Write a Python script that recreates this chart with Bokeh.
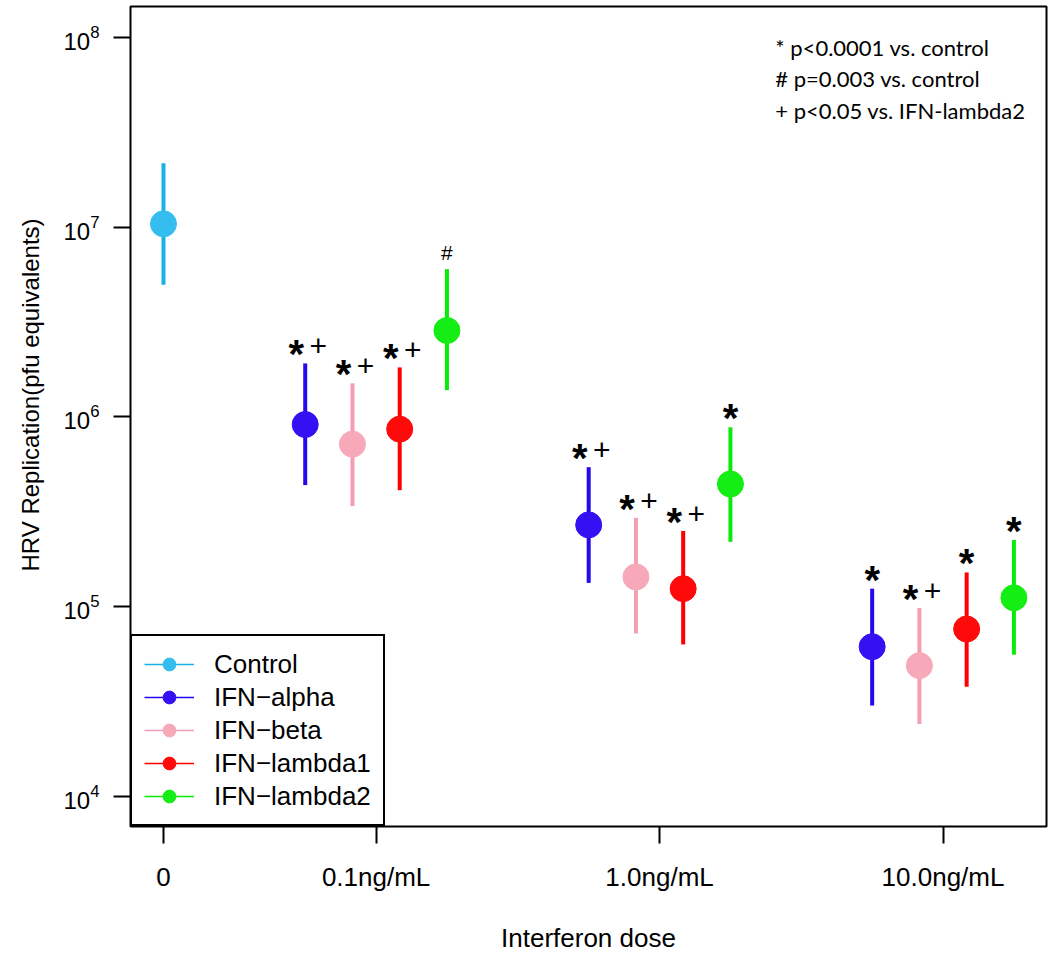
from bokeh.plotting import figure
from bokeh.models import (FixedTicker, Legend, LegendItem, ColumnDataSource, Label, Range1d, Title)
from bokeh.embed import file_html
from bokeh.resources import INLINE
from bokeh.core.properties import value

# ---------------- data ----------------
doses = ["0", "0.1ng/mL", "1.0ng/mL", "10.0ng/mL"]
series = ["Control", "IFN\u2212alpha", "IFN\u2212beta", "IFN\u2212lambda1", "IFN\u2212lambda2"]
line_colors = ["#19b1e6", "#2608ee", "#f59db2", "#ff0000", "#0aeb0a"]
dot_colors = ["#35bdef", "#3510f2", "#f7a8b9", "#ff0a0a", "#14ee14"]

control_mean = [1.04e7]
control_upper = [2.17e7]
control_lower = [4.96e6]

alpha_mean = [9.1e5, 2.69e5, 6.13e4]
alpha_upper = [1.91e6, 5.42e5, 1.24e5]
alpha_lower = [4.36e5, 1.33e5, 3.0e4]

beta_mean = [7.17e5, 1.43e5, 4.87e4]
beta_upper = [1.5e6, 2.93e5, 9.8e4]
beta_lower = [3.38e5, 7.2e4, 2.4e4]

l1_mean = [8.6e5, 1.24e5, 7.6e4]
l1_upper = [1.82e6, 2.5e5, 1.51e5]
l1_lower = [4.1e5, 6.3e4, 3.77e4]

l2_mean = [2.85e6, 4.42e5, 1.11e5]
l2_upper = [6.0e6, 8.8e5, 2.24e5]
l2_lower = [1.38e6, 2.19e5, 5.56e4]

control_sig = [""]
alpha_sig = ["*+", "*+", "*"]
beta_sig = ["*+", "*+", "*+"]
l1_sig = ["*+", "*+", "*"]
l2_sig = ["#", "*", "*"]

notes = ["* p<0.0001 vs. control", "# p=0.003 vs. control", "+ p<0.05 vs. IFN-lambda2"]
x_title = "Interferon dose"
y_title = "HRV Replication(pfu equivalents)"

# ---------------- layout ----------------
group_pos = [0.0, 4.5, 10.5, 16.5]
offsets = [0.0, -1.5, -0.5, 0.5, 1.5]

all_mean = [control_mean, alpha_mean, beta_mean, l1_mean, l2_mean]
all_upper = [control_upper, alpha_upper, beta_upper, l1_upper, l2_upper]
all_lower = [control_lower, alpha_lower, beta_lower, l1_lower, l2_lower]
all_sig = [control_sig, alpha_sig, beta_sig, l1_sig, l2_sig]

p = figure(width=1048, height=955, y_axis_type="log",
           x_range=Range1d(-0.698, 18.69), y_range=Range1d(10 ** 3.8395, 10 ** 8.163),
           output_backend="svg", toolbar_location=None,
           min_border_left=130, min_border_right=2, min_border_top=6, min_border_bottom=127)
p.outline_line_color = "black"
p.outline_line_width = 2
p.outline_line_alpha = 1
p.grid.visible = False
p.background_fill_color = "white"

FONT = "Liberation Sans"

# x axis
p.xaxis.ticker = FixedTicker(ticks=group_pos)
p.xaxis.major_label_overrides = {g: d for g, d in zip(group_pos, doses)}
p.xaxis.axis_label = x_title
p.xaxis.major_label_text_font_size = "26px"
p.xaxis.major_label_standoff = 18
p.xaxis.axis_label_text_font_size = "26px"
p.xaxis.axis_label_standoff = 28

# y axis
p.yaxis.ticker = FixedTicker(ticks=[1e4, 1e5, 1e6, 1e7, 1e8])
p.yaxis.major_label_text_font_size = "24px"
p.yaxis.major_label_standoff = 14

for ax in (p.xaxis, p.yaxis):
    ax.axis_line_color = None
    ax.major_tick_line_width = 2
    ax.major_tick_line_color = "black"
    ax.major_tick_out = 17
    ax.major_tick_in = 0
    ax.minor_tick_out = 0
    ax.minor_tick_in = 0
    ax.major_label_text_font = FONT
    ax.major_label_text_color = "black"
    ax.axis_label_text_font = FONT
    ax.axis_label_text_font_style = "normal"
    ax.axis_label_text_color = "black"

# y-axis title, a little above the frame centre as in the original
p.add_layout(Title(text=y_title, align="left", offset=255, standoff=30, vertical_align="top",
                   text_font=FONT, text_font_size="24px", text_font_style="normal",
                   text_color="black"), "left")

items = []
star_x, star_y, star_off = [], [], []
plus_x, plus_y = [], []
hash_x, hash_y = [], []
for i, name in enumerate(series):
    gp = group_pos[:1] if i == 0 else group_pos[1:]
    xs = [g + offsets[i] for g in gp]
    src = ColumnDataSource(dict(x=xs, mean=all_mean[i], lo=all_lower[i], hi=all_upper[i]))
    p.segment(x0="x", y0="lo", x1="x", y1="hi", source=src,
              line_color=line_colors[i], line_width=4)
    proxy = p.line(x="x", y="mean", source=src, line_color=line_colors[i],
                   line_width=1.6, visible=False)
    sc = p.scatter(x="x", y="mean", source=src, size=26, marker="circle",
                   fill_color=dot_colors[i], line_color=dot_colors[i])
    items.append(LegendItem(label=name, renderers=[proxy, sc]))
    for x, hi, s in zip(xs, all_upper[i], all_sig[i]):
        if "*" in s:
            star_x.append(x); star_y.append(hi)
            star_off.append(-9 if "+" in s else 0)
        if "+" in s:
            plus_x.append(x); plus_y.append(hi)
        if "#" in s:
            hash_x.append(x); hash_y.append(hi)

star_src = ColumnDataSource(dict(x=star_x, y=star_y, xo=star_off, t=["*"] * len(star_x)))
p.text(x="x", y="y", text="t", x_offset="xo", y_offset=-9, source=star_src,
       text_align="center", text_baseline="middle", text_font=value(FONT),
       text_font_size="40px", text_font_style="bold", text_color="black")
plus_src = ColumnDataSource(dict(x=plus_x, y=plus_y, t=["+"] * len(plus_x)))
p.text(x="x", y="y", text="t", x_offset=13, y_offset=-17, source=plus_src,
       text_align="center", text_baseline="middle", text_font=value(FONT),
       text_font_size="30px", text_color="black")
hash_src = ColumnDataSource(dict(x=hash_x, y=hash_y, t=["#"] * len(hash_x)))
p.text(x="x", y="y", text="t", y_offset=-17, source=hash_src,
       text_align="center", text_baseline="middle", text_font=value(FONT),
       text_font_size="21px", text_color="black")

# notes in upper right
note_y = [8.86e7, 6.08e7, 4.13e7]
for t, yy in zip(notes, note_y):
    p.add_layout(Label(x=12.95, y=yy, text=t, text_font="Lato", text_font_size="22px",
                       text_baseline="middle", text_align="left", text_color="black"))

legend = Legend(items=items, location="bottom_left", margin=0, padding=12, spacing=1,
                glyph_width=50, glyph_height=32, label_height=28, label_standoff=20,
                label_text_font=FONT, label_text_font_size="26px", label_text_color="black",
                border_line_color="black", border_line_width=2, border_line_alpha=1,
                background_fill_color="white", background_fill_alpha=1)
p.add_layout(legend)

open("out.html", "w").write(file_html(p, INLINE))
